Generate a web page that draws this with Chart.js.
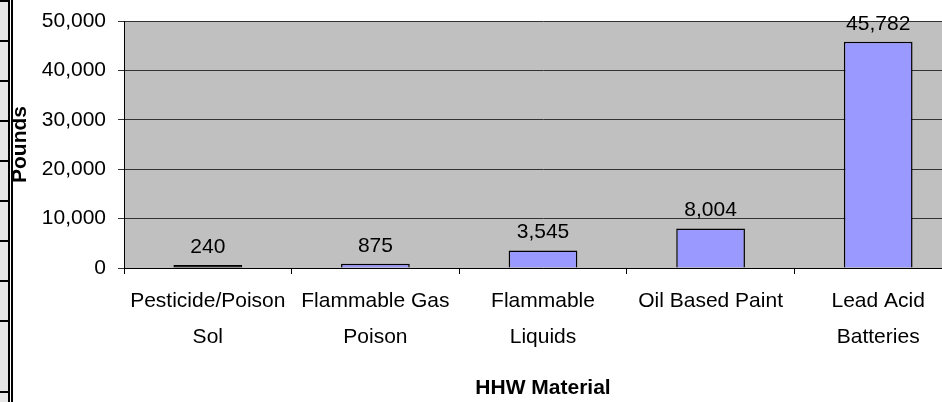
<!DOCTYPE html>
<html>
<head>
<meta charset="utf-8">
<script src="https://cdn.jsdelivr.net/npm/chart.js@4"></script>
<style>
  html, body { margin: 0; padding: 0; background: #fff; overflow: hidden; }
  #wrap { position: relative; width: 942px; height: 402px; overflow: hidden; }
  #cells {
    position: absolute; left: 0; top: 0; width: 8px; height: 402px;
    background: #e6e6e6;
  }
  .row { position: absolute; left: 0; width: 8px; height: 2px; background: #000; }
  #v1 { position: absolute; left: 8px; top: 0; width: 2px; height: 402px; background: #000; }
  #v2 { position: absolute; left: 11px; top: 0; width: 2px; height: 402px; background: #000; }
  #box { position: absolute; left: 0; top: 0; width: 962px; height: 402px; }
</style>
</head>
<body>
<div id="wrap">
  <div id="cells"></div>
  <div id="v1"></div>
  <div id="v2"></div>
  <div id="box"><canvas id="chart" width="962" height="402"></canvas></div>
</div>
<script>
const categories = [
    ['Pesticide/Poison', 'Sol'],
    ['Flammable Gas', 'Poison'],
    ['Flammable', 'Liquids'],
    ['Oil Based Paint'],
    ['Lead Acid', 'Batteries']
];
const pounds = [240, 875, 3545, 8004, 45782];
const yTicks = [0, 10000, 20000, 30000, 40000, 50000];

// spreadsheet row lines on the left edge
const cells = document.getElementById('cells');
[0, 40, 80, 120, 160, 200, 240, 280, 320, 391].forEach(y => {
    const r = document.createElement('div');
    r.className = 'row';
    r.style.top = y + 'px';
    cells.appendChild(r);
});

const fontFamily = '"Liberation Sans", Arial, sans-serif';

const plotBackground = {
    id: 'plotBackground',
    beforeDraw(chart) {
        const { ctx, chartArea } = chart;
        ctx.save();
        ctx.fillStyle = '#c0c0c0';
        ctx.fillRect(chartArea.left, chartArea.top, chartArea.right - chartArea.left, chartArea.bottom - chartArea.top);
        ctx.restore();
    }
};

const valueLabels = {
    id: 'valueLabels',
    afterDatasetsDraw(chart) {
        const { ctx } = chart;
        const meta = chart.getDatasetMeta(0);
        ctx.save();
        ctx.font = '21px ' + fontFamily;
        ctx.fillStyle = '#000';
        ctx.textAlign = 'center';
        ctx.textBaseline = 'alphabetic';
        meta.data.forEach((bar, i) => {
            ctx.fillText(pounds[i].toLocaleString('en-US'), bar.x, bar.y - 12);
        });
        ctx.restore();
    }
};

new Chart(document.getElementById('chart').getContext('2d'), {
    type: 'bar',
    data: {
        labels: categories,
        datasets: [{
            data: pounds,
            backgroundColor: c => (c.raw < 500 ? '#000' : '#9999ff'),
            borderColor: '#000',
            borderWidth: 1.5,
            minBarLength: 3,
            barPercentage: 0.41,
            categoryPercentage: 1
        }]
    },
    options: {
        responsive: false,
        animation: false,
        layout: { padding: { top: 21, left: 0, right: 0, bottom: 0 } },
        plugins: {
            legend: { display: false },
            tooltip: { enabled: false }
        },
        scales: {
            x: {
                afterFit(scale) { scale.height = 134; scale.paddingRight = 0; },
                grid: {
                    drawOnChartArea: false,
                    drawTicks: true,
                    tickLength: 6,
                    color: '#000'
                },
                border: { color: '#000', width: 1 },
                ticks: {
                    color: '#000',
                    padding: 9,
                    maxRotation: 0,
                    autoSkip: false,
                    font: { family: fontFamily, size: 21, lineHeight: 1.72 }
                },
                title: {
                    display: true,
                    text: 'HHW Material',
                    color: '#000',
                    padding: { top: 0, bottom: 1 },
                    font: { family: fontFamily, size: 21, weight: 'bold' }
                }
            },
            y: {
                min: 0,
                max: 50000,
                afterFit(scale) { scale.width = 124; scale.paddingTop = 0; scale.paddingBottom = 0; },
                afterBuildTicks(scale) { scale.ticks = yTicks.map(v => ({ value: v })); },
                grid: {
                    color: '#333',
                    lineWidth: 1,
                    tickLength: 6
                },
                border: { color: '#000', width: 1 },
                ticks: {
                    color: '#000',
                    padding: 12,
                    font: { family: fontFamily, size: 21 },
                    callback: v => v.toLocaleString('en-US')
                },
                title: {
                    display: true,
                    text: 'Pounds',
                    color: '#000',
                    padding: { top: 8, bottom: 0 },
                    font: { family: fontFamily, size: 21, weight: 'bold' }
                }
            }
        }
    },
    plugins: [plotBackground, valueLabels]
});
</script>
</body>
</html>
